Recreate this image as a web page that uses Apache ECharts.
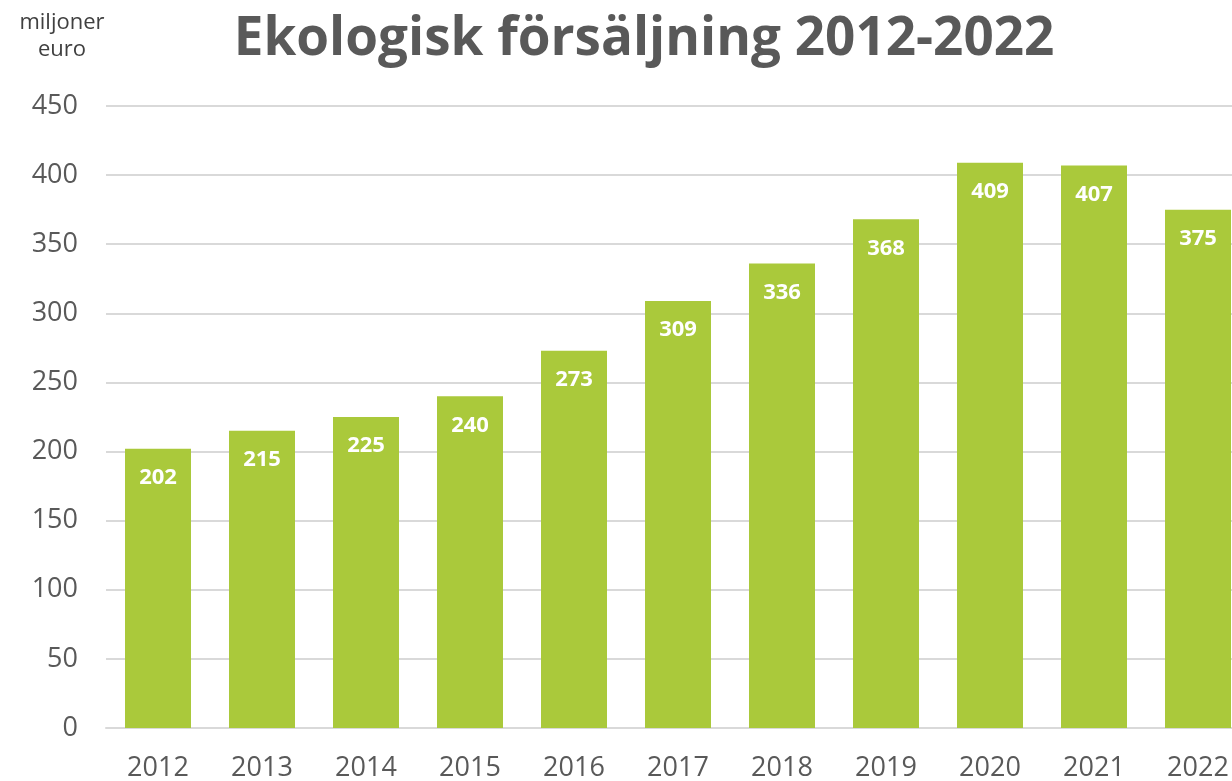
<!DOCTYPE html>
<html>
<head>
<meta charset="utf-8">
<script src="https://cdn.jsdelivr.net/npm/echarts@6/dist/echarts.min.js"></script>
<style>
  html, body { margin: 0; padding: 0; background: #fff; }
  #main { width: 1232px; height: 781px; }
</style>
</head>
<body>
<div id="main"></div>
<script>
// år och försäljning (miljoner euro)
const years = ["2012", "2013", "2014", "2015", "2016", "2017", "2018", "2019", "2020", "2021", "2022"];
const sales = [202, 215, 225, 240, 273, 309, 336, 368, 409, 407, 375];

const chart = echarts.init(document.getElementById("main"));
chart.setOption({
  animation: false,
  textStyle: { fontFamily: "Open Sans" },
  title: [
    {
      text: "Ekologisk försäljning 2012-2022",
      left: 639,
      top: 8,
      textAlign: "center",
      textStyle: { fontSize: 53, fontWeight: "bold", color: "#595959", fontFamily: "Open Sans" },
    },
    {
      text: "miljoner\neuro",
      left: 57,
      top: 4,
      textAlign: "center",
      textStyle: { fontSize: 22, fontWeight: "normal", color: "#404040", lineHeight: 27, fontFamily: "Open Sans" },
    },
  ],
  grid: { left: 106, top: 106, width: 1144, height: 622, outerBoundsMode: "none" },
  xAxis: {
    type: "category",
    data: years,
    axisTick: { show: false },
    axisLine: { lineStyle: { color: "#d9d9d9", width: 2 } },
    axisLabel: { color: "#595959", fontSize: 27, margin: 27 },
  },
  yAxis: {
    type: "value",
    min: 0,
    max: 450,
    interval: 50,
    axisLabel: { color: "#595959", fontSize: 27, margin: 28 },
    splitLine: { lineStyle: { color: "#d9d9d9", width: 2 } },
  },
  series: [
    {
      type: "bar",
      data: sales,
      barWidth: 66,
      itemStyle: { color: "#aac93b" },
      label: {
        show: true,
        position: "insideTop",
        distance: 18,
        color: "#fff",
        fontWeight: "bold",
        fontSize: 22,
      },
    },
  ],
});
</script>
</body>
</html>
